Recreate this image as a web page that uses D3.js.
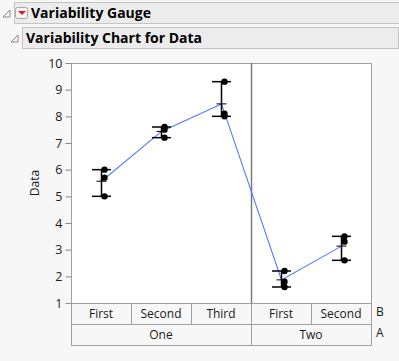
<!DOCTYPE html>
<html>
<head>
<meta charset="utf-8">
<script src="https://cdn.jsdelivr.net/npm/d3@7"></script>
<style>
  body { margin: 0; background: #f7f7f7; }
  svg { display: block; }
</style>
</head>
<body>
<div id="chart"></div>
<script>
// data
var levelA = ['One', 'One', 'One', 'Two', 'Two']
var levelB = ['First', 'Second', 'Third', 'First', 'Second']
var cellValues = [
    [6.0, 5.7, 5.0],
    [7.6, 7.5, 7.2],
    [9.3, 8.1, 8.0],
    [2.2, 1.8, 1.6],
    [3.5, 3.3, 2.6]
]
var yTicks = [1, 2, 3, 4, 5, 6, 7, 8, 9, 10]

var W = 399, H = 361
var font = '"Open Sans", "Noto Sans", sans-serif'
var plot = { left: 71, right: 371, top: 63, bottom: 303 }
var rowH = 21

var svg = d3.select('#chart').append('svg')
    .attr('width', W)
    .attr('height', H)
    .style('font-family', font)

svg.append('rect').attr('width', W).attr('height', H).attr('fill', '#f7f7f7')

// outline headers
function header(x, y, w, title, withMenu) {
    svg.append('rect')
        .attr('x', x + 0.5).attr('y', y + 0.5)
        .attr('width', w).attr('height', 21)
        .attr('fill', '#ececec')
        .attr('stroke', '#c4c4c4')
    // disclosure triangle
    var tx = x - 11, ty = y + 8
    svg.append('path')
        .attr('d', 'M' + (tx + 7) + ',' + ty + 'L' + (tx + 7) + ',' + (ty + 7) + 'L' + tx + ',' + (ty + 7) + 'Z')
        .attr('fill', 'none')
        .attr('stroke', '#8a8a8a')
    var textX = x + 4
    if (withMenu) {
        svg.append('rect')
            .attr('x', x + 1.5).attr('y', y + 5.5)
            .attr('width', 12).attr('height', 11).attr('rx', 2)
            .attr('fill', '#f4f4f4').attr('stroke', '#a8a8a8')
        svg.append('path')
            .attr('d', 'M' + (x + 4) + ',' + (y + 9) + 'L' + (x + 12) + ',' + (y + 9) + 'L' + (x + 8) + ',' + (y + 13) + 'Z')
            .attr('fill', '#e0142a')
        textX = x + 17
    }
    svg.append('text')
        .attr('x', textX).attr('y', y + 16)
        .attr('font-size', 14).attr('font-weight', 'bold')
        .attr('fill', '#000')
        .text(title)
}
header(14, 2, 400, 'Variability Gauge', true)
header(22, 27, 376, 'Variability Chart for Data', false)

var idx = d3.range(cellValues.length)
var x = d3.scaleBand().domain(idx).range([plot.left, plot.right]).padding(0)
var y = d3.scaleLinear().domain([1, 10]).range([plot.bottom, plot.top])

// plot frame
svg.append('rect')
    .attr('x', plot.left + 0.5).attr('y', plot.top + 0.5)
    .attr('width', plot.right - plot.left).attr('height', plot.bottom - plot.top)
    .attr('fill', '#fff').attr('stroke', '#a0a0a0')

// separators between A levels
var groupsA = []
levelA.forEach(function(a, i) {
    var last = groupsA[groupsA.length - 1]
    if (last && last.name === a) last.end = i
    else groupsA.push({ name: a, start: i, end: i })
})
groupsA.slice(1).forEach(function(g) {
    svg.append('line')
        .attr('x1', x(g.start) + 0.5).attr('x2', x(g.start) + 0.5)
        .attr('y1', plot.top).attr('y2', plot.bottom)
        .attr('stroke', '#7a7a7a').attr('stroke-width', 1.5)
})

// y axis
var yAxis = d3.axisLeft(y).tickValues(yTicks).tickSize(6).tickPadding(3)
var ga = svg.append('g')
    .attr('transform', 'translate(' + (plot.left + 0.5) + ',0)')
    .call(yAxis)
ga.select('.domain').remove()
ga.selectAll('.tick line').attr('stroke', '#8a8a8a')
ga.selectAll('.tick text')
    .attr('font-family', font).attr('font-size', 12.5).attr('fill', '#1a1a1a')

svg.append('text')
    .attr('transform', 'translate(39,' + ((plot.top + plot.bottom) / 2) + ') rotate(-90)')
    .attr('text-anchor', 'middle')
    .attr('font-size', 12).attr('fill', '#1a1a1a')
    .text('Data')

// range bars, means, points
var stats = cellValues.map(function(v, i) {
    return { i: i, min: d3.min(v), max: d3.max(v), mean: d3.mean(v), vals: v }
})
var line = d3.line()
    .x(function(d) { return x(d.i) + x.bandwidth() / 2 + 0.5 })
    .y(function(d) { return y(d.mean) })

svg.append('path')
    .datum(stats)
    .attr('d', line)
    .attr('fill', 'none')
    .attr('stroke', '#5478ff')
    .attr('stroke-width', 1.1)

var cell = svg.selectAll('.cell').data(stats).enter().append('g')
    .attr('class', 'cell')
    .attr('transform', function(d) { return 'translate(' + (x(d.i) + x.bandwidth() / 2 + 0.5) + ',0)' })

cell.append('line')
    .attr('x1', 0).attr('x2', 0)
    .attr('y1', function(d) { return y(d.max) })
    .attr('y2', function(d) { return y(d.min) })
    .attr('stroke', '#000').attr('stroke-width', 1.5)
cell.append('line')
    .attr('x1', -9.5).attr('x2', 9.5)
    .attr('y1', function(d) { return y(d.max) }).attr('y2', function(d) { return y(d.max) })
    .attr('stroke', '#000').attr('stroke-width', 1.5)
cell.append('line')
    .attr('x1', -9.5).attr('x2', 9.5)
    .attr('y1', function(d) { return y(d.min) }).attr('y2', function(d) { return y(d.min) })
    .attr('stroke', '#000').attr('stroke-width', 1.5)
cell.append('line')
    .attr('x1', -5).attr('x2', 5)
    .attr('y1', function(d) { return y(d.mean) }).attr('y2', function(d) { return y(d.mean) })
    .attr('stroke', '#000').attr('stroke-width', 1)

cell.selectAll('circle')
    .data(function(d) { return d.vals })
    .enter().append('circle')
    .attr('cx', 3)
    .attr('cy', function(v) { return y(v) })
    .attr('r', 3.2)
    .attr('fill', '#000')

// category label rows
var rowB = plot.bottom, rowA = plot.bottom + rowH
idx.forEach(function(i) {
    svg.append('rect')
        .attr('x', x(i) + 0.5).attr('y', rowB + 0.5)
        .attr('width', x.bandwidth()).attr('height', rowH)
        .attr('fill', 'none').attr('stroke', '#a0a0a0')
    svg.append('text')
        .attr('x', x(i) + x.bandwidth() / 2).attr('y', rowB + 15)
        .attr('text-anchor', 'middle')
        .attr('font-size', 12).attr('fill', '#1a1a1a')
        .text(levelB[i])
})
groupsA.forEach(function(g) {
    var x0 = x(g.start), x1 = x(g.end) + x.bandwidth()
    svg.append('rect')
        .attr('x', x0 + 0.5).attr('y', rowA + 0.5)
        .attr('width', x1 - x0).attr('height', rowH)
        .attr('fill', 'none').attr('stroke', '#a0a0a0')
    svg.append('text')
        .attr('x', (x0 + x1) / 2).attr('y', rowA + 15)
        .attr('text-anchor', 'middle')
        .attr('font-size', 12).attr('fill', '#1a1a1a')
        .text(g.name)
})
svg.append('text').attr('x', 376).attr('y', rowB + 13)
    .attr('font-size', 12).attr('fill', '#1a1a1a').text('B')
svg.append('text').attr('x', 376).attr('y', rowA + 13)
    .attr('font-size', 12).attr('fill', '#1a1a1a').text('A')
</script>
</body>
</html>
